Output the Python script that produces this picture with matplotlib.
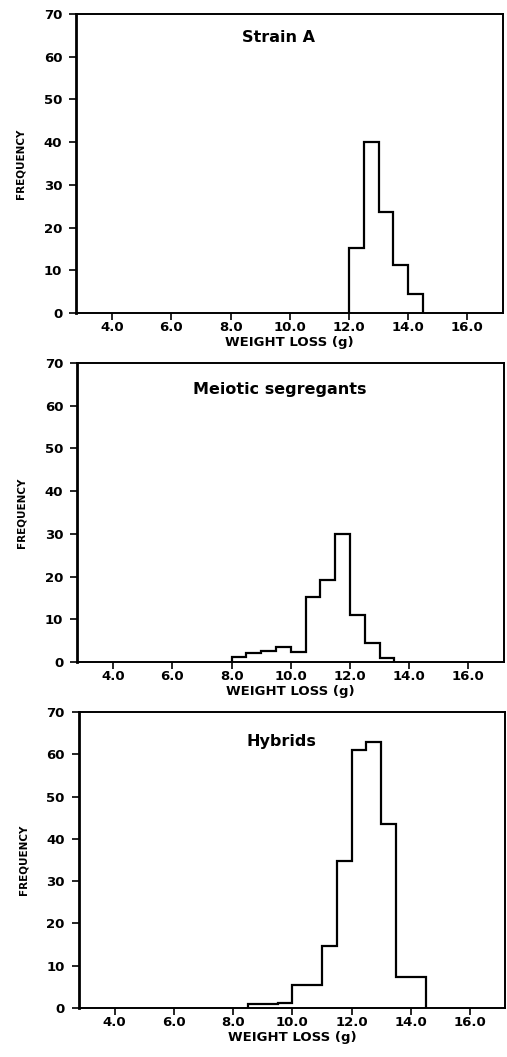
import numpy as np
import matplotlib
matplotlib.use("Agg")
import matplotlib.pyplot as plt

plt.rcParams["font.family"] = ["DejaVu Sans"]
plt.rcParams["font.weight"] = "bold"

# bin edges start / heights (bin width 0.5 g)
BIN_W = 0.5
strain_a_start = 12.0
strain_a_freq = [15.3, 40.0, 23.6, 11.2, 4.5]

meiotic_start = 8.0
meiotic_freq = [1.2, 2.2, 2.5, 3.5, 2.3, 15.3, 19.1, 30.0, 11.1, 4.4, 1.0]

hybrid_start = 8.5
hybrid_freq = [1.0, 1.0, 1.2, 5.5, 5.5, 14.6, 34.8, 61.0, 63.0, 43.6, 7.4, 7.4]

titles = ["Strain A", "Meiotic segregants", "Hybrids"]
x_ticks = [4.0, 6.0, 8.0, 10.0, 12.0, 14.0, 16.0]
y_ticks = [0, 10, 20, 30, 40, 50, 60, 70]

panels = [
    (strain_a_start, strain_a_freq),
    (meiotic_start, meiotic_freq),
    (hybrid_start, hybrid_freq),
]

fig = plt.figure(figsize=(5.07, 10.57), dpi=100)
# axes boxes in figure fraction
boxes = [
    [0.150, 0.7039, 0.842, 0.2829],
    [0.152, 0.3737, 0.842, 0.2829],
    [0.155, 0.0464, 0.842, 0.2800],
]
title_y = [0.92, 0.91, 0.90]

for (start, freq), box, title, ty in zip(panels, boxes, titles, title_y):
    ax = fig.add_axes(box)
    edges = start + BIN_W * np.arange(len(freq) + 1)
    ax.stairs(freq, edges, baseline=0, color="black", lw=1.6)

    ax.set_xlim(2.78, 17.2)
    ax.set_ylim(0, 70)
    ax.set_xticks(x_ticks)
    ax.set_xticklabels([f"{t:.1f}" for t in x_ticks])
    ax.set_yticks(y_ticks)
    ax.tick_params(direction="out", length=5, width=1.2, labelsize=9.5)
    ax.tick_params(axis="y", pad=5)
    ax.tick_params(axis="x", pad=1)
    for s in ax.spines.values():
        s.set_linewidth(1.4)
    ax.spines["left"].set_linewidth(2.0)

    ax.set_xlabel("WEIGHT LOSS (g)", fontsize=9.5, fontweight="bold", labelpad=1)
    ax.set_ylabel("FREQUENCY", fontsize=7.5, fontweight="bold", labelpad=13)
    ax.text(0.475, ty, title, transform=ax.transAxes, ha="center", va="center",
            fontsize=11.5, fontweight="bold")

fig.savefig("out.png", dpi=100)
